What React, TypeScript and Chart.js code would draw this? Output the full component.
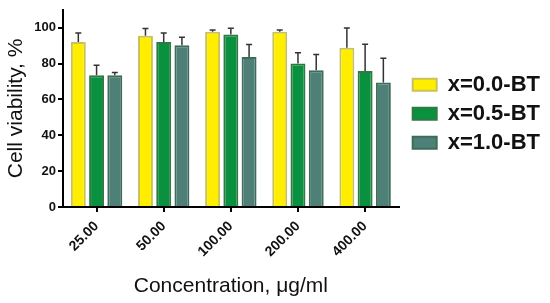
import React, { useEffect, useRef } from "react";
import { Chart, registerables } from "chart.js";

Chart.register(...registerables);

const categories = ["25.00", "50.00", "100.00", "200.00", "400.00"];
const seriesNames = ["x=0.0-BT", "x=0.5-BT", "x=1.0-BT"];
const bt00Values = [92, 95.5, 97.7, 97.7, 88.8];
const bt05Values = [73.5, 92, 96.2, 80, 75.8];
const bt10Values = [73.5, 90.2, 83.7, 76.3, 69.4];
const bt00Errors = [5, 4, 1, 1, 11];
const bt05Errors = [5.5, 5, 3.5, 6, 15];
const bt10Errors = [1.5, 4.5, 7, 8.7, 13.6];
const yTicks = [0, 20, 40, 60, 80, 100];

const fillColors = ["#FFEE00", "#0A9140", "#4E8078"];
const borderColors = ["#C9C25A", "#2F7A42", "#3F6C58"];

const errorBarPlugin = {
  id: "errorBars",
  afterDatasetsDraw(chart: any) {
    const ctx = chart.ctx;
    const yScale = chart.scales.y;
    const errs = [bt00Errors, bt05Errors, bt10Errors];
    ctx.save();
    ctx.strokeStyle = "#333333";
    ctx.lineWidth = 1.5;
    chart.data.datasets.forEach((ds: any, di: number) => {
      const meta = chart.getDatasetMeta(di);
      meta.data.forEach((bar: any, i: number) => {
        const v = ds.data[i];
        const top = yScale.getPixelForValue(v + errs[di][i]);
        const base = yScale.getPixelForValue(v);
        ctx.beginPath();
        ctx.moveTo(bar.x, base);
        ctx.lineTo(bar.x, top);
        ctx.moveTo(bar.x - 3, top);
        ctx.lineTo(bar.x + 3, top);
        ctx.stroke();
      });
    });
    ctx.restore();
  },
};

export default function App() {
  const ref = useRef<HTMLCanvasElement>(null);
  useEffect(() => {
    if (!ref.current) return;
    const font = "'Liberation Sans', Arial, sans-serif";
    const chart = new Chart(ref.current, {
      type: "bar",
      data: {
        labels: categories,
        datasets: [bt00Values, bt05Values, bt10Values].map((d, i) => ({
          label: seriesNames[i],
          data: d,
          backgroundColor: fillColors[i],
          borderColor: borderColors[i],
          borderWidth: 2,
          categoryPercentage: 0.815,
          barPercentage: 0.82,
          yAxisID: "y",
        })),
      },
      options: {
        responsive: false,
        animation: false,
        layout: { padding: { top: 3, right: 0, left: 0, bottom: 0 } },
        plugins: {
          legend: {
            position: "right",
            fullSize: false,
            maxWidth: 200,
            title: { display: true, text: " ", padding: 0, font: { size: 9 } },
            labels: {
              boxWidth: 24,
              boxHeight: 12,
              padding: 7,
              color: "#111",
              font: { family: font, size: 22, weight: "bold" },
            },
          },
          tooltip: { enabled: false },
        },
        scales: {
          x: {
            grid: {
              display: true,
              drawOnChartArea: false,
              offset: false,
              tickLength: 5,
              color: "#000",
              lineWidth: 2,
            },
            border: { color: "#000", width: 2 },
            ticks: {
              maxRotation: 45,
              minRotation: 45,
              padding: 6,
              color: "#111",
              font: { family: font, size: 14, weight: "bold" },
            },
            title: {
              display: true,
              text: "Concentration, μg/ml",
              color: "#111",
              font: { family: font, size: 21 },
            },
            afterFit: (s: any) => {
              s.height = 96;
            },
          },
          y: {
            min: 0,
            max: 110,
            grid: {
              display: true,
              drawOnChartArea: false,
              tickLength: 5,
              color: "#000",
              lineWidth: 2,
            },
            border: { color: "#000", width: 2 },
            afterBuildTicks: (s: any) => {
              s.ticks = yTicks.map((v) => ({ value: v }));
            },
            ticks: {
              padding: 2,
              color: "#111",
              font: { family: font, size: 13, weight: "bold" },
            },
            title: {
              display: true,
              text: "Cell viability, %",
              color: "#111",
              font: { family: font, size: 21 },
            },
            afterFit: (s: any) => {
              s.width = 63;
            },
          },
          yR: {
            position: "right",
            display: true,
            grid: { display: false },
            ticks: { display: false },
            border: { display: false },
            afterFit: (s: any) => {
              s.width = 7;
            },
          },
        },
      },
      plugins: [errorBarPlugin],
    } as any);
    return () => chart.destroy();
  }, []);
  return (
    <div style={{ position: "absolute", left: 0, top: 0, width: 550, height: 303, background: "#fff" }}>
      <canvas ref={ref} width={550} height={303} />
    </div>
  );
}
